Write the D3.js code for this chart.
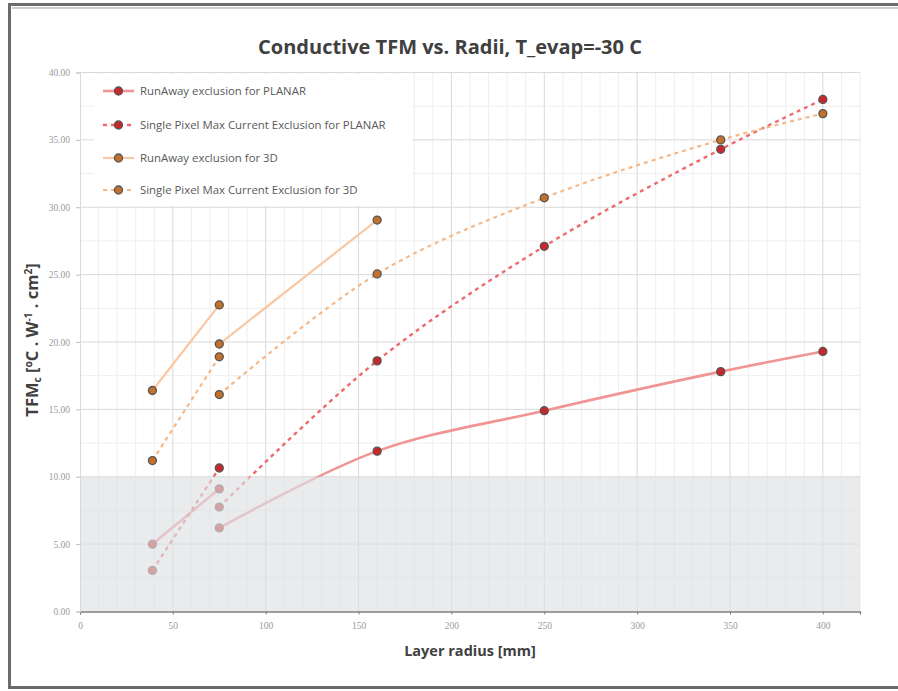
<!DOCTYPE html>
<html lang="en">
<head>
    <meta charset="UTF-8">
    <title>Conductive TFM vs. Radii</title>
    <script src="https://d3js.org/d3.v7.min.js"></script>
    <style>
        body { margin: 0; background: #fff; }
        text { font-family: "Open Sans", "DejaVu Sans", sans-serif; }
    </style>
</head>
<body>
    <svg></svg>
    <script>
        // values; null breaks the line into two pieces
        const radius = [39, 75, null, 75, 160, 250, 345, 400];
        const planarRunaway = [5.0, 9.1, null, 6.2, 11.9, 14.9, 17.8, 19.3];
        const planarSpmc = [3.05, 10.65, null, 7.75, 18.6, 27.1, 34.3, 38.0];
        const radius3d = [39, 75, null, 75, 160];
        const runaway3d = [16.4, 22.75, null, 19.85, 29.05];
        const spmc3d = [11.2, 18.9, null, 16.1, 25.05, 30.7, 35.0, 36.95];
        const seriesNames = [
            "RunAway exclusion for PLANAR",
            "Single Pixel Max Current Exclusion for PLANAR",
            "RunAway exclusion for 3D",
            "Single Pixel Max Current Exclusion for 3D"
        ];
        const yTicks = [0, 5, 10, 15, 20, 25, 30, 35, 40];
        const xTicks = [0, 50, 100, 150, 200, 250, 300, 350, 400];
        const shadeTop = 10;

        const width = 898, height = 691;
        const svg = d3.select("svg").attr("width", width).attr("height", height);

        const x = d3.scaleLinear().domain([0, 420]).range([80, 860]);
        const y = d3.scaleLinear().domain([0, 40]).range([611.5, 72.5]);

        // frame around the chart
        svg.append("rect")
            .attr("x", 9.5).attr("y", 4.5)
            .attr("width", 900).attr("height", 683)
            .attr("fill", "none")
            .attr("stroke", "#6b6b6b")
            .attr("stroke-width", 3);
        svg.append("line")
            .attr("x1", 12).attr("x2", 900).attr("y1", 8).attr("y2", 8)
            .attr("stroke", "#bdbdbd").attr("stroke-width", 1.5);

        // grid, minor first
        const grid = svg.append("g");
        grid.selectAll(".hmin")
            .data(d3.range(2.5, 40, 5))
            .join("line")
            .attr("x1", x(0)).attr("x2", x(420))
            .attr("y1", d => y(d)).attr("y2", d => y(d))
            .attr("stroke", "#eeeeee");
        grid.selectAll(".vmin")
            .data(d3.range(10, 421, 10).filter(d => d % 50 !== 0))
            .join("line")
            .attr("x1", d => x(d)).attr("x2", d => x(d))
            .attr("y1", y(0)).attr("y2", y(40))
            .attr("stroke", "#eeeeee");
        grid.selectAll(".hmaj")
            .data(yTicks.slice(1))
            .join("line")
            .attr("x1", x(0)).attr("x2", x(420))
            .attr("y1", d => y(d)).attr("y2", d => y(d))
            .attr("stroke", "#d9d9d9");
        grid.selectAll(".vmaj")
            .data(xTicks.slice(1))
            .join("line")
            .attr("x1", d => x(d)).attr("x2", d => x(d))
            .attr("y1", y(0)).attr("y2", y(40))
            .attr("stroke", "#d9d9d9");

        // series
        const series = [
            { xs: radius, ys: planarRunaway, stroke: "#f19494", dash: null, w: 2.6, fill: "#c8282c" },
            { xs: radius, ys: planarSpmc, stroke: "#ec6b6e", dash: "4,4", w: 2.4, fill: "#c8282c" },
            { xs: radius3d, ys: runaway3d, stroke: "#f9c8a3", dash: null, w: 2.2, fill: "#c2702c" },
            { xs: radius, ys: spmc3d, stroke: "#f6b887", dash: "4,4", w: 2.2, fill: "#c2702c" }
        ];

        const line = d3.line()
            .defined(d => d[1] !== null)
            .x(d => x(d[0])).y(d => y(d[1]))
            .curve(d3.curveCatmullRom);

        series.forEach(s => {
            const pts = s.xs.map((v, i) => [v, s.ys[i]]);
            svg.append("path")
                .attr("d", line(pts))
                .attr("fill", "none")
                .attr("stroke", s.stroke)
                .attr("stroke-width", s.w)
                .attr("stroke-dasharray", s.dash);
            svg.append("g").selectAll("circle")
                .data(pts.filter(d => d[1] !== null))
                .join("circle")
                .attr("cx", d => x(d[0])).attr("cy", d => y(d[1]))
                .attr("r", 4)
                .attr("fill", s.fill)
                .attr("stroke", "#555")
                .attr("stroke-width", 1.3);
        });

        // shaded band drawn over the marks, semi-transparent
        svg.append("rect")
            .attr("x", x(0)).attr("y", y(shadeTop))
            .attr("width", x(420) - x(0)).attr("height", y(0) - y(shadeTop))
            .attr("fill", "#dfe0e3")
            .attr("opacity", 0.65);

        // axes
        const xAxis = svg.append("g")
            .attr("transform", `translate(0,${y(0)})`)
            .call(d3.axisBottom(x).tickValues(xTicks).tickSize(3).tickPadding(8).tickFormat(d3.format("d")));
        xAxis.select(".domain").attr("stroke", "#7f7f7f").attr("stroke-width", 1.3);
        xAxis.selectAll(".tick line").attr("stroke", "#7f7f7f");
        xAxis.selectAll("text").attr("fill", "#9a9a9a").attr("font-size", 9.5)
            .style("font-family", "'Liberation Serif', serif");

        const yAxis = svg.append("g")
            .attr("transform", `translate(${x(0)},0)`)
            .call(d3.axisLeft(y).tickValues(yTicks).tickSize(4).tickPadding(6).tickFormat(d3.format(".2f")));
        yAxis.select(".domain").attr("stroke", "#d9d9d9");
        yAxis.selectAll(".tick line").attr("stroke", "#bfbfbf");
        yAxis.selectAll("text").attr("fill", "#9a9a9a").attr("font-size", 9.5)
            .style("font-family", "'Liberation Serif', serif");

        // legend
        const legend = svg.append("g");
        legend.append("rect")
            .attr("x", 94).attr("y", 74).attr("width", 318).attr("height", 132)
            .attr("fill", "#fff");
        const legY = [91, 125, 158, 190];
        series.forEach((s, i) => {
            const g = legend.append("g").attr("transform", `translate(0,${legY[i]})`);
            g.append("line")
                .attr("x1", 103).attr("x2", 134)
                .attr("stroke", s.stroke).attr("stroke-width", s.w)
                .attr("stroke-dasharray", s.dash);
            g.append("circle")
                .attr("cx", 118.5).attr("r", 4)
                .attr("fill", s.fill).attr("stroke", "#555").attr("stroke-width", 1.3);
            g.append("text")
                .attr("x", 140).attr("y", 4)
                .attr("font-size", 11.4).attr("fill", "#595959")
                .text(seriesNames[i]);
        });

        // title and axis titles
        svg.append("text")
            .attr("x", 450).attr("y", 54)
            .attr("text-anchor", "middle")
            .attr("font-size", 20).attr("font-weight", "bold").attr("fill", "#404040")
            .text("Conductive TFM vs. Radii, T_evap=-30 C");

        svg.append("text")
            .attr("x", 470).attr("y", 656)
            .attr("text-anchor", "middle")
            .attr("font-size", 14.5).attr("font-weight", "bold").attr("fill", "#404040")
            .text("Layer radius [mm]");

        const yt = svg.append("text")
            .attr("transform", "translate(38,340) rotate(-90)")
            .attr("text-anchor", "middle")
            .attr("font-size", 16.5).attr("font-weight", "bold").attr("fill", "#404040");
        yt.append("tspan").text("TFM");
        yt.append("tspan").attr("font-size", 10).attr("dy", 3).text("c");
        yt.append("tspan").attr("dy", -3).text(" [ºC . W");
        yt.append("tspan").attr("font-size", 10).attr("dy", -6).text("-1");
        yt.append("tspan").attr("dy", 6).text(" . cm");
        yt.append("tspan").attr("font-size", 10).attr("dy", -6).text("2");
        yt.append("tspan").attr("dy", 6).text("]");
    </script>
</body>
</html>
